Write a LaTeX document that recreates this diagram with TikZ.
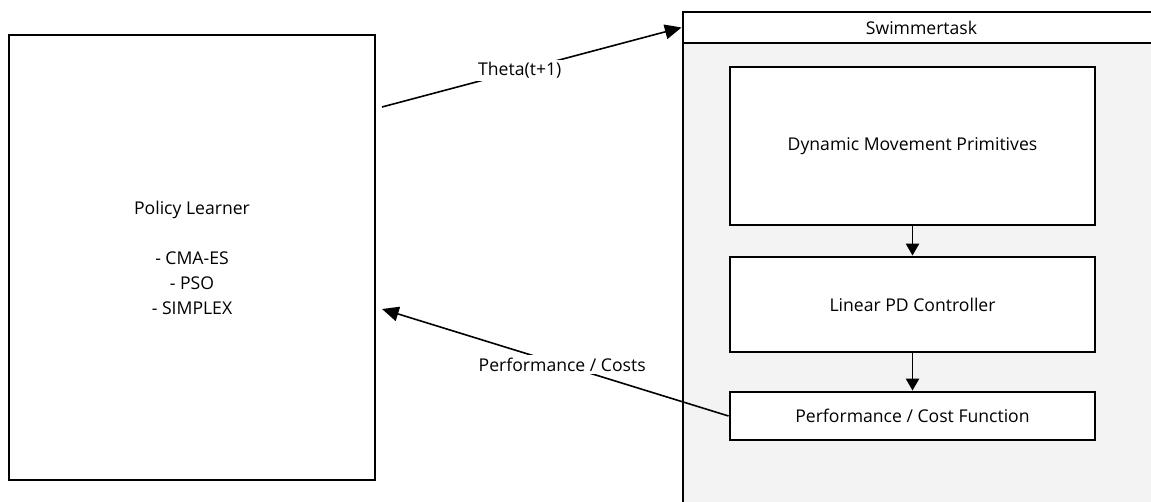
\documentclass[tikz,border=0pt]{standalone}
\usepackage{fontspec}
\setmainfont{Open Sans}
\usetikzlibrary{arrows.meta,positioning}

\newcommand*{\px}{0.75pt}

\begin{document}
\begin{tikzpicture}[x=0.75pt, y=-0.75pt, font=\fontsize{13.2}{18.75}\selectfont]
	\tikzset{
		box/.style={draw, line width=2.2pt, fill=white, inner sep=0pt, align=center},
		flow/.style={line width=1.2pt, -{Triangle[length=12.5pt,width=11pt]}},
		link/.style={line width=1.2pt, -{Triangle[length=9pt,width=10pt]}},
		lbl/.style={fill=white, inner sep=2pt}
	}

	\clip (0,0) rectangle (1151,502);

	% learner on the left
	\node[box, minimum width=366*\px, minimum height=445*\px] (learner) at (192,257.5)
		{Policy Learner\\ \\ - CMA-ES\\ - PSO\\ - SIMPLEX};

	% task frame, runs off the page
	\node[box, fill={rgb,255:red,243;green,243;blue,243}, minimum width=477*\px, minimum height=498*\px] (task) at (921.5,261) {};
	\node[box, minimum width=477*\px, minimum height=31*\px] (taskhead) at (921.5,27.5) {Swimmertask};

	% inner blocks
	\node[box, minimum width=365*\px, minimum height=158*\px] (dmp) at (912.5,146) {Dynamic Movement Primitives};
	\node[box, minimum width=365*\px, minimum height=95*\px] (pdctrl) at (912.5,304.5) {Linear PD Controller};
	\node[box, minimum width=365*\px, minimum height=48*\px] (costfn) at (912.5,416) {Performance / Cost Function};

	\draw[link] (dmp) -- (pdctrl);
	\draw[link] (pdctrl) -- (costfn);

	% loop between learner and task
	\coordinate (thetaout) at (382,107);
	\coordinate (costin) at (382,309);
	\draw[flow] (thetaout) -- node[lbl, pos=0.46] {Theta(t+1)} (taskhead.west);
	\draw[flow] (costfn.west) -- node[lbl, pos=0.48] {Performance / Costs} (costin);
\end{tikzpicture}
\end{document}
